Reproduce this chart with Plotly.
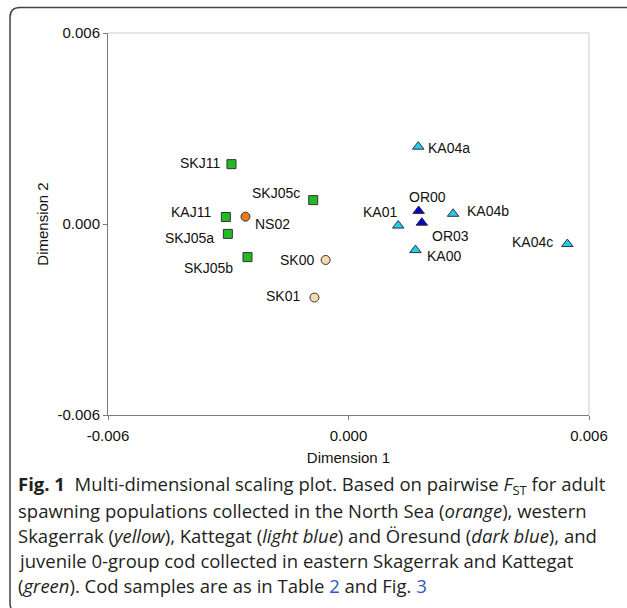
import plotly.graph_objects as go

# ---- data ----
groups = ["North Sea", "Western Skagerrak", "Kattegat", "Öresund", "Juvenile 0-group"]

ns_names = ["NS02"]
ns_x = [-0.00257]
ns_y = [0.00023]

sk_names = ["SK00", "SK01"]
sk_x = [-0.00057, -0.00085]
sk_y = [-0.00113, -0.00231]

ka_names = ["KA04a", "KA01", "KA04b", "KA00", "KA04c"]
ka_x = [0.00174, 0.00124, 0.00261, 0.00167, 0.00546]
ka_y = [0.00243, -0.00005, 0.00032, -0.00082, -0.00063]

or_names = ["OR00", "OR03"]
or_x = [0.00175, 0.00183]
or_y = [0.00041, 0.00004]

juv_names = ["SKJ11", "SKJ05c", "KAJ11", "SKJ05a", "SKJ05b"]
juv_x = [-0.00292, -0.00088, -0.00306, -0.00301, -0.00252]
juv_y = [0.00188, 0.00075, 0.00022, -0.00031, -0.00104]

tick_vals = [-0.006, 0.0, 0.006]
tick_text = ["-0.006", "0.000", "0.006"]

# label placement (anchor, xshift, yshift) per sample
label_pos = {
    "SKJ11": ("right", -9, 1), "SKJ05c": ("right", -11, 7), "KAJ11": ("right", -13, 5),
    "NS02": ("left", 8, -7), "SKJ05a": ("right", -12, -4), "SKJ05b": ("right", -12, -11),
    "SK00": ("right", -10, 0), "SK01": ("right", -12, 2), "KA04a": ("left", 8, -1),
    "OR00": ("center", 9, 14), "OR03": ("left", 8, -13), "KA01": ("right", 1, 14),
    "KA04b": ("left", 12, 3), "KA00": ("left", 10, -6), "KA04c": ("right", -12, 2),
}

W, H = 627, 608
L, R, T, B = 108, 38, 33, 193
PW, PH = W - L - R, H - T - B


def px(xp):
    return (xp - L) / PW


def py(yp):
    return (H - B - yp) / PH


fig = go.Figure()

series = [
    (ns_names, ns_x, ns_y, "circle", "#ee7722", 9),
    (sk_names, sk_x, sk_y, "circle", "#fbd9b0", 9),
    (juv_names, juv_x, juv_y, "square", "#22bb22", 9),
    (ka_names, ka_x, ka_y, "triangle-up", "#22ccee", 10),
    (or_names, or_x, or_y, "triangle-up", "#0000cc", 10),
]
for (names, xs, ys, sym, col, sz), g in zip(series, groups):
    fig.add_trace(go.Scatter(
        x=xs, y=ys, mode="markers", name=g, text=names,
        marker=dict(symbol=sym, color=col, size=sz,
                    line=dict(color="#333333", width=1)),
        showlegend=False,
    ))

annotations = []
for names, xs, ys, *_ in series:
    for n, xv, yv in zip(names, xs, ys):
        anc, xs_, ys_ = label_pos[n]
        annotations.append(dict(
            x=xv, y=yv, xref="x", yref="y", text=n, showarrow=False,
            xanchor=anc, yanchor="middle", xshift=xs_, yshift=ys_,
            font=dict(family="Liberation Sans, Arial, sans-serif", size=14, color="#111111"),
        ))

cap_font = dict(family="Open Sans, sans-serif", size=18.5, color="#231f20")
caption = [
    "<b>Fig. 1</b>\u00a0\u00a0Multi-dimensional scaling plot. Based on pairwise <i>F</i><sub>ST</sub> for adult",
    "spawning populations collected in the North Sea (<i>orange</i>), western",
    "Skagerrak (<i>yellow</i>), Kattegat (<i>light blue</i>) and Öresund (<i>dark blue</i>), and",
    "juvenile 0-group cod collected in eastern Skagerrak and Kattegat",
    "(<i>green</i>). Cod samples are as in Table <span style='color:#3355cc'>2</span> and Fig. <span style='color:#3355cc'>3</span>",
]
cap_y = [485, 510, 535, 560, 585]
for line, yp in zip(caption, cap_y):
    annotations.append(dict(
        x=px(16), y=py(yp), xref="paper", yref="paper", text=line,
        showarrow=False, xanchor="left", yanchor="middle", align="left",
        font=cap_font,
    ))

axis_font = dict(family="Liberation Sans, Arial, sans-serif", size=15, color="#111111")

fig.update_layout(
    width=W, height=H,
    margin=dict(l=L, r=R, t=T, b=B, pad=0),
    paper_bgcolor="white", plot_bgcolor="white",
    annotations=annotations,
    xaxis=dict(
        range=[-0.006, 0.006], tickvals=tick_vals, ticktext=tick_text,
        showgrid=False, zeroline=False, showline=True, linecolor="#7a7a7a", linewidth=1,
        ticks="outside", ticklen=4, tickcolor="#7a7a7a", tickfont=axis_font,
        ticklabelstandoff=3,
        title=dict(text="Dimension 1", font=axis_font, standoff=9),
    ),
    yaxis=dict(
        range=[-0.006, 0.006], tickvals=tick_vals, ticktext=tick_text,
        showgrid=False, zeroline=False, showline=True, linecolor="#7a7a7a", linewidth=1,
        ticks="outside", ticklen=4, tickcolor="#7a7a7a", tickfont=axis_font,
        title=dict(text="Dimension 2", font=axis_font, standoff=5),
    ),
    shapes=[
        dict(type="line", xref="paper", yref="paper", x0=0, x1=1, y0=1, y1=1,
             line=dict(color="#cccccc", width=1)),
        dict(type="line", xref="paper", yref="paper", x0=1, x1=1, y0=0, y1=1,
             line=dict(color="#cccccc", width=1)),
        dict(type="path", xref="paper", yref="paper", layer="above",
             path=(f"M {px(660)} {py(7.5)} L {px(20)} {py(7.5)} "
                   f"Q {px(10)} {py(7.5)} {px(10)} {py(17.5)} "
                   f"L {px(10)} {py(603)} Q {px(10)} {py(613)} {px(20)} {py(613)} "
                   f"L {px(660)} {py(613)}"),
             line=dict(color="#444444", width=1.5)),
    ],
)

fig.write_html(
    "out.html",
    config={"displayModeBar": False},
    post_script="document.body.style.margin='0px';",
)
